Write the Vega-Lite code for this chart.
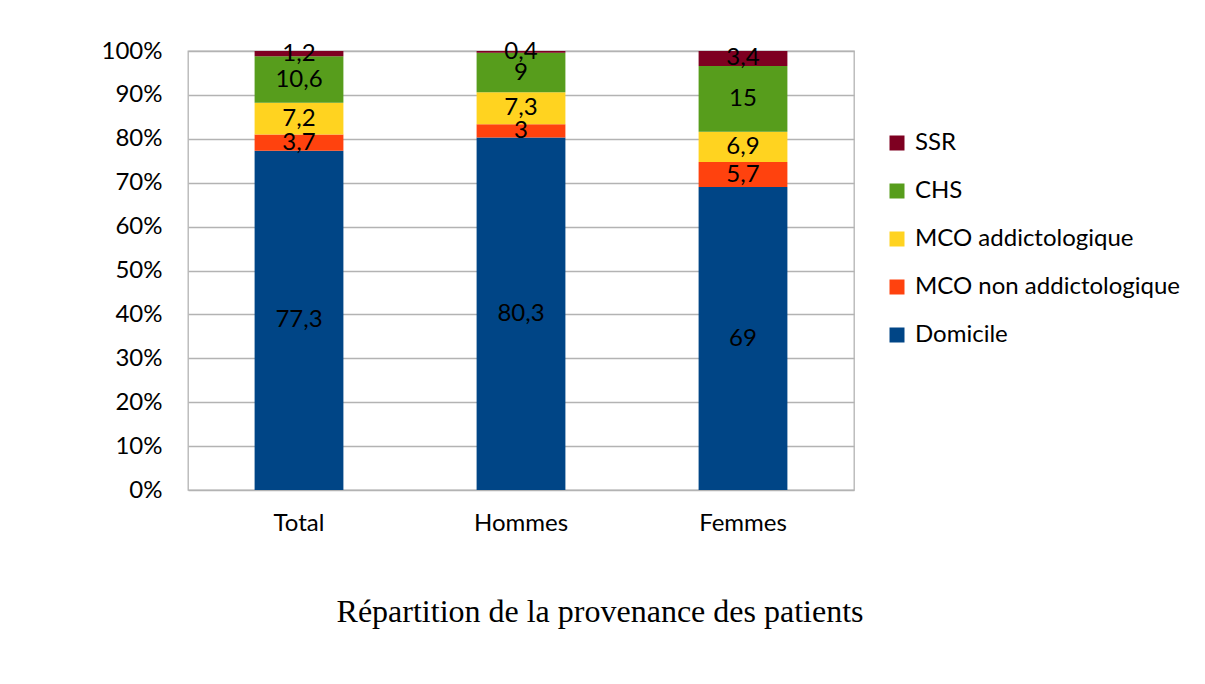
{
  "$schema": "https://vega.github.io/schema/vega-lite/v6.json",
  "width": 666,
  "height": 439,
  "autosize": "none",
  "padding": {"left": 188, "top": 51, "right": 351, "bottom": 194},
  "background": "white",
  "title": {
    "text": "Répartition de la provenance des patients",
    "orient": "bottom",
    "anchor": "middle",
    "font": "Liberation Serif",
    "fontSize": 32,
    "fontWeight": "normal",
    "color": "black",
    "offset": 62,
    "dx": 79
  },
  "data": {
    "values": [
      {"groupe": "Total", "provenance": "Domicile", "valeur": 77.3},
      {"groupe": "Total", "provenance": "MCO non addictologique", "valeur": 3.7},
      {"groupe": "Total", "provenance": "MCO addictologique", "valeur": 7.2},
      {"groupe": "Total", "provenance": "CHS", "valeur": 10.6},
      {"groupe": "Total", "provenance": "SSR", "valeur": 1.2},
      {"groupe": "Hommes", "provenance": "Domicile", "valeur": 80.3},
      {"groupe": "Hommes", "provenance": "MCO non addictologique", "valeur": 3},
      {"groupe": "Hommes", "provenance": "MCO addictologique", "valeur": 7.3},
      {"groupe": "Hommes", "provenance": "CHS", "valeur": 9},
      {"groupe": "Hommes", "provenance": "SSR", "valeur": 0.4},
      {"groupe": "Femmes", "provenance": "Domicile", "valeur": 69},
      {"groupe": "Femmes", "provenance": "MCO non addictologique", "valeur": 5.7},
      {"groupe": "Femmes", "provenance": "MCO addictologique", "valeur": 6.9},
      {"groupe": "Femmes", "provenance": "CHS", "valeur": 15},
      {"groupe": "Femmes", "provenance": "SSR", "valeur": 3.4}
    ]
  },
  "transform": [
    {"calculate": "indexof(['Domicile','MCO non addictologique','MCO addictologique','CHS','SSR'], datum.provenance)", "as": "rang"}
  ],
  "encoding": {
    "x": {
      "field": "groupe",
      "type": "nominal",
      "sort": ["Total", "Hommes", "Femmes"],
      "scale": {"paddingInner": 0.6, "paddingOuter": 0.3},
      "axis": {
        "title": null,
        "labelAngle": 0,
        "ticks": false,
        "domain": false,
        "labelPadding": 21,
        "labelFont": "Lato",
        "labelFontSize": 24,
        "labelColor": "black"
      }
    },
    "y": {
      "field": "valeur",
      "type": "quantitative",
      "stack": "normalize",
      "scale": {"domain": [0, 1], "nice": false},
      "axis": {
        "title": null,
        "format": ".0%",
        "values": [0, 0.1, 0.2, 0.3, 0.4, 0.5, 0.6, 0.7, 0.8, 0.9, 1],
        "labelOverlap": false,
        "ticks": false,
        "domain": false,
        "labelPadding": 26,
        "labelFont": "Lato",
        "labelFontSize": 24,
        "labelColor": "black",
        "gridColor": "#b3b3b3",
        "gridWidth": 1.3,
        "gridOpacity": 1
      }
    },
    "order": {"field": "rang", "type": "quantitative", "sort": "ascending"}
  },
  "layer": [
    {
      "mark": {"type": "bar"},
      "encoding": {
        "color": {
          "field": "provenance",
          "type": "nominal",
          "scale": {
            "domain": ["SSR", "CHS", "MCO addictologique", "MCO non addictologique", "Domicile"],
            "range": ["#7e0021", "#579d1c", "#ffd320", "#ff420e", "#004586"]
          },
          "legend": {
            "title": null,
            "orient": "none",
            "legendX": 697,
            "legendY": 80,
            "symbolType": "square",
            "symbolSize": 225,
            "symbolStrokeWidth": 0,
            "labelFont": "Lato",
            "labelFontSize": 24,
            "labelColor": "black",
            "labelLimit": 400,
            "labelOffset": 6,
            "rowPadding": 24,
            "padding": 0
          }
        }
      }
    },
    {
      "mark": {"type": "text", "font": "Lato", "fontSize": 24, "color": "black", "baseline": "middle", "align": "center"},
      "encoding": {
        "y": {"field": "valeur", "type": "quantitative", "stack": "normalize", "bandPosition": 0.5},
        "text": {"field": "valeur", "type": "quantitative", "format": "~g"}
      }
    }
  ],
  "config": {
    "locale": {"number": {"decimal": ",", "thousands": " ", "grouping": [3], "currency": ["", " €"]}},
    "view": {"stroke": "#b3b3b3", "strokeWidth": 1.3}
  }
}
